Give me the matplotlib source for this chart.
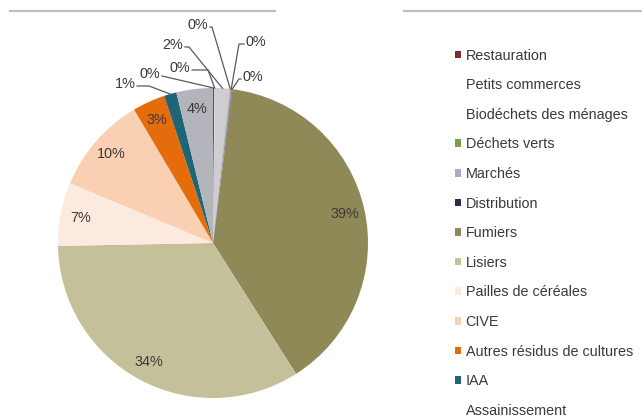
import matplotlib.pyplot as plt
from matplotlib.patches import Patch
import numpy as np

# Parts of the potential, in %, clockwise from 12 o'clock
categories = ["Restauration", "Petits commerces", "Biodéchets des ménages",
              "Déchets verts", "Marchés", "Distribution", "Fumiers", "Lisiers",
              "Pailles de céréales", "CIVE", "Autres résidus de cultures", "IAA",
              "Assainissement"]
shares = [0.15, 0.05, 1.55, 0.05, 0.15, 0.05, 39.0, 33.7, 6.6, 10.2, 3.4, 1.3, 3.8]

colors = ["#8B3A48", "#FFFFFF", "#CDCDD2", "#77A043", "#A99BC6", "#2E2B4F",
          "#8E8957", "#C4C09A", "#FCEADE", "#FAD0B2", "#E46C0A", "#1F6477", "#B4B4BC"]
legend_colors = ["#7B2D2D", "none", "none", "#77A043", "#B3A6CB", "#2E2B4F",
                 "#8E8957", "#C4C09A", "#FCEADE", "#FAD0B2", "#E46C0A", "#1F6477", "none"]

plt.rcParams['font.family'] = ['Liberation Sans', 'DejaVu Sans']
txt = "#3A3A3A"
fs = 10.4

W, H = 642, 417
fig = plt.figure(figsize=(W / 100, H / 100), dpi=100)
ax = fig.add_axes([0, 0, 1, 1])

cx, cy, r = 213, H - 243, 155
wedges, _ = ax.pie(shares, colors=colors, startangle=90, counterclock=False,
                   center=(cx, cy), radius=r, wedgeprops=dict(linewidth=0))
ax.set_xlim(0, W)
ax.set_ylim(0, H)
ax.axis('off')

labels = [f"{v:.0f}%" for v in shares]

def mid(w):
    return np.deg2rad((w.theta1 + w.theta2) / 2)

# labels inside the big slices
for i, w in enumerate(wedges):
    if shares[i] >= 3:
        a = mid(w)
        ax.text(cx + 0.87 * r * np.cos(a), cy + 0.87 * r * np.sin(a), labels[i],
                ha='center', va='center', fontsize=fs, color=txt)

# small slices: label position (image px), leader start offset, elbow length
outside = {
    0: (150, 74, 12, 0),
    1: (180, 68, 12, 16),
    2: (173, 45, 12, 4),
    3: (198, 25, 12, 2),
    4: (256, 42, -12, -5),
    5: (253, 77, -12, -2),
    11: (125, 84, 12, 12),
}
for i, (x, y, off, elb) in outside.items():
    ax.text(x, H - y, labels[i], ha='center', va='center', fontsize=fs, color=txt)
    a = mid(wedges[i])
    px, py = cx + r * np.cos(a), cy + r * np.sin(a)
    sx, sy = x + off, H - y - 2
    ax.plot([sx, sx + elb, px], [sy, sy, py], color="#595959", lw=0.9)

# rules at the top
ax.plot([10, 275], [H - 11, H - 11], color="#BFBFBF", lw=1.6)
ax.plot([404, W], [H - 11, H - 11], color="#BFBFBF", lw=1.6)

handles = [Patch(facecolor=c, edgecolor='none') for c in legend_colors]
ax.legend(handles, categories, loc='upper left', bbox_to_anchor=(455 / W, 1 - 48.5 / H),
          frameon=False, fontsize=fs, handlelength=0.43, handleheight=0.43,
          handletextpad=0.3, labelspacing=1.08, borderpad=0, borderaxespad=0,
          labelcolor=txt)

fig.savefig("out.png", dpi=100)
